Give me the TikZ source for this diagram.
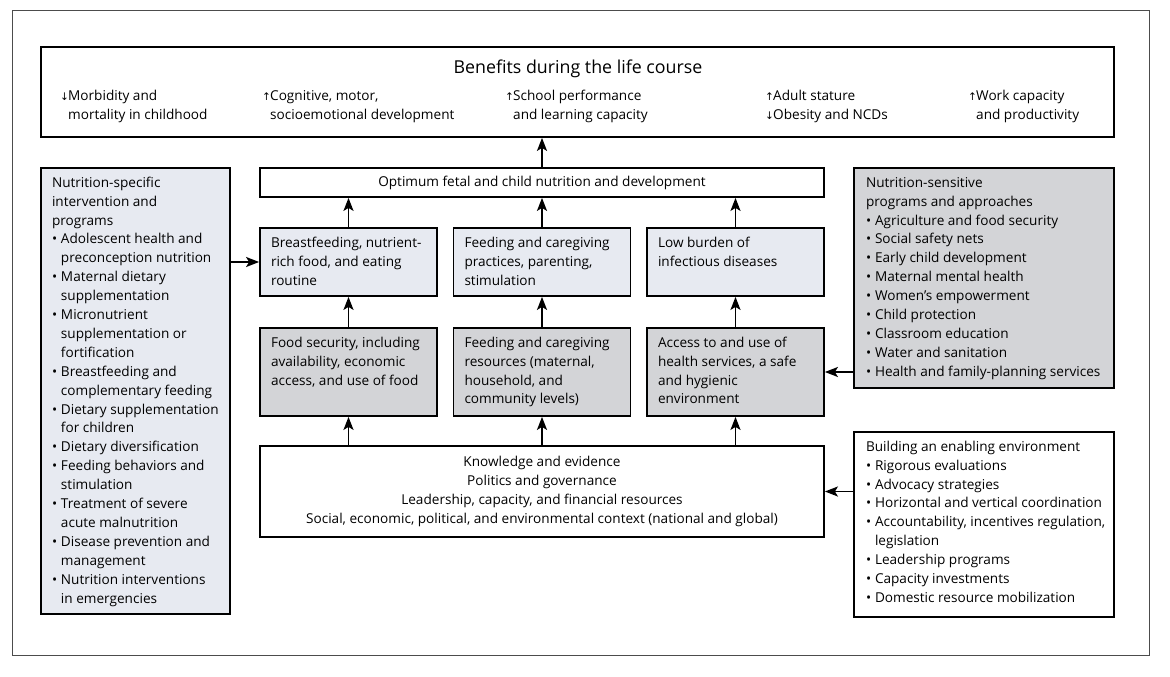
\documentclass[tikz,border=0pt]{standalone}
\usepackage{fontspec}
\setmainfont{Open Sans}
\newfontfamily\arrowfont{DejaVu Sans}
\usetikzlibrary{arrows.meta}
\definecolor{boxlight}{HTML}{E7EAF1}
\definecolor{boxdark}{HTML}{D3D4D7}
\newcommand{\bitem}{\makebox[9pt][l]{•}}
\newcommand{\bindent}{\hspace*{9pt}}
\newcommand{\uparr}{\makebox[8pt][l]{\arrowfont\fontsize{10.5}{10}\selectfont ↑}}
\newcommand{\downarr}{\makebox[8pt][l]{\arrowfont\fontsize{10.5}{10}\selectfont ↓}}
\newcommand{\arrindent}{\hspace*{8pt}}
\newcommand{\boxtext}[3]{\parbox[c][#2pt][t]{#1pt}{\raggedright\strut#3}}
\tikzset{
  every node/.style={font=\fontsize{13.6}{18.9}\selectfont, inner sep=0pt},
  framebox/.style={draw, line width=1.8pt, inner sep=0pt},
  whitebox/.style={framebox, fill=white},
  lightbox/.style={framebox, fill=boxlight},
  darkbox/.style={framebox, fill=boxdark},
  link/.style={line width=1.8pt, -{Stealth[length=13pt,width=10pt,inset=3pt]}}
}

\begin{document}
\begin{tikzpicture}[x=1pt,y=-1pt]
  \useasboundingbox (0,0) rectangle (1170,677);
  \draw[line width=0.8pt, black!70] (12,10) rectangle (1149,655);

  % benefits
  \node[whitebox, minimum width=1073pt, minimum height=90pt] (benefits) at (577.5,92) {};
  \node[font=\fontsize{17.8}{20}\selectfont] (bentitle) at (578,69) {Benefits during the life course};
  \node[anchor=west, align=left] (ben1) at (60,106.5) {\downarr Morbidity and\\\arrindent mortality in childhood};
  \node[anchor=west, align=left] (ben2) at (262,106.5) {\uparr Cognitive, motor,\\\arrindent socioemotional development};
  \node[anchor=west, align=left] (ben3) at (505,106.5) {\uparr School performance\\\arrindent and learning capacity};
  \node[anchor=west, align=left] (ben4) at (765,106.5) {\uparr Adult stature\\\downarr Obesity and NCDs};
  \node[anchor=west, align=left] (ben5) at (968,106.5) {\uparr Work capacity\\\arrindent and productivity};

  % centre column
  \node[whitebox, minimum width=564pt, minimum height=29pt] (optimum) at (542,182.5) {Optimum fetal and child nutrition and development};

  \node[lightbox, minimum width=177pt, minimum height=68pt] (bfood) at (348.5,262)
    {\boxtext{155}{56}{Breastfeeding, nutrient-\\rich food, and eating\\routine}};
  \node[lightbox, minimum width=177pt, minimum height=68pt] (practices) at (542,262)
    {\boxtext{155}{56}{Feeding and caregiving\\practices, parenting,\\stimulation}};
  \node[lightbox, minimum width=177pt, minimum height=68pt] (burden) at (735.5,262)
    {\boxtext{155}{56}{Low burden of\\infectious diseases}};

  \node[darkbox, minimum width=177pt, minimum height=88pt] (foodsec) at (348.5,372)
    {\boxtext{155}{76}{Food security, including\\availability, economic\\access, and use of food}};
  \node[darkbox, minimum width=177pt, minimum height=88pt] (resources) at (542,372)
    {\boxtext{155}{76}{Feeding and caregiving\\resources (maternal,\\household, and\\community levels)}};
  \node[darkbox, minimum width=177pt, minimum height=88pt] (access) at (735.5,372)
    {\boxtext{155}{76}{Access to and use of\\health services, a safe\\and hygienic\\environment}};

  \node[whitebox, minimum width=564pt, minimum height=91pt, align=center] (context) at (542,491.5)
    {Knowledge and evidence\\Politics and governance\\Leadership, capacity, and financial resources\\Social, economic, political, and environmental context (national and global)};

  % side panels
  \node[lightbox, minimum width=189pt, minimum height=446pt] (specific) at (135.5,391)
    {\boxtext{167}{434}{Nutrition-specific\\intervention and\\programs\\
      \bitem Adolescent health and\\\bindent preconception nutrition\\
      \bitem Maternal dietary\\\bindent supplementation\\
      \bitem Micronutrient\\\bindent supplementation or\\\bindent fortification\\
      \bitem Breastfeeding and\\\bindent complementary feeding\\
      \bitem Dietary supplementation\\\bindent for children\\
      \bitem Dietary diversification\\
      \bitem Feeding behaviors and\\\bindent stimulation\\
      \bitem Treatment of severe\\\bindent acute malnutrition\\
      \bitem Disease prevention and\\\bindent management\\
      \bitem Nutrition interventions\\\bindent in emergencies}};

  \node[darkbox, minimum width=260pt, minimum height=220pt] (sensitive) at (984,278)
    {\boxtext{236}{208}{Nutrition-sensitive\\programs and approaches\\
      \bitem Agriculture and food security\\
      \bitem Social safety nets\\
      \bitem Early child development\\
      \bitem Maternal mental health\\
      \bitem Women’s empowerment\\
      \bitem Child protection\\
      \bitem Classroom education\\
      \bitem Water and sanitation\\
      \bitem Health and family-planning services}};

  \node[whitebox, minimum width=260pt, minimum height=185pt] (enabling) at (984,524.5)
    {\boxtext{236}{173}{Building an enabling environment\\
      \bitem Rigorous evaluations\\
      \bitem Advocacy strategies\\
      \bitem Horizontal and vertical coordination\\
      \bitem \mbox{Accountability, incentives regulation,}\\\bindent legislation\\
      \bitem Leadership programs\\
      \bitem Capacity investments\\
      \bitem Domestic resource mobilization}};

  % arrows
  \draw[link] (optimum.north) -- (optimum.north |- benefits.south);
  \foreach \n in {bfood, practices, burden}
    \draw[link] (\n.north) -- (\n.north |- optimum.south);
  \foreach \a/\b in {foodsec/bfood, resources/practices, access/burden}
    \draw[link] (\a.north) -- (\b.south);
  \foreach \a in {foodsec, resources, access}
    \draw[link] (\a.south |- context.north) -- (\a.south);
  \draw[link] (specific.east |- bfood.west) -- (bfood.west);
  \draw[link] (sensitive.west |- access.east) -- (access.east);
  \draw[link] (enabling.west |- context.east) -- (context.east);
\end{tikzpicture}
\end{document}
